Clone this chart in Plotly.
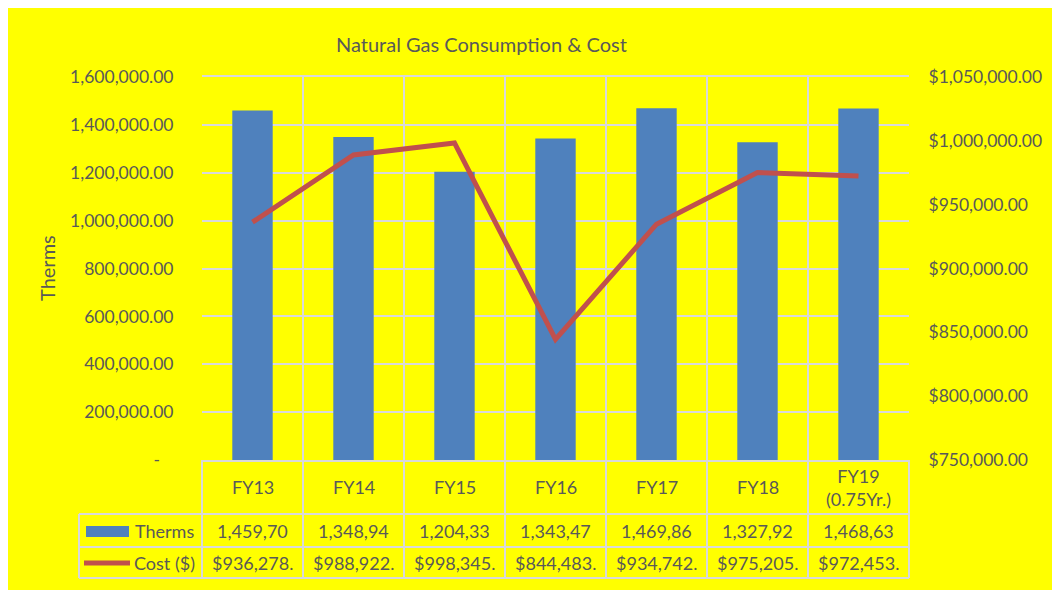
import plotly.graph_objects as go

# ---- data ----
categories = ["FY13", "FY14", "FY15", "FY16", "FY17", "FY18", "FY19<br>(0.75Yr.)"]
therms = [1459700, 1348940, 1204330, 1343470, 1469860, 1327920, 1468630]
cost = [936278, 988922, 998345, 844483, 934742, 975205, 972453]
left_ticks = [0, 200000, 400000, 600000, 800000, 1000000, 1200000, 1400000, 1600000]
right_ticks = [750000, 800000, 850000, 900000, 950000, 1000000, 1050000]

TXT = "#595959"
GRID = "#D9D9D9"
BLUE = "#4F81BD"
RED = "#C0504D"
FONT = "Lato"
FS = 17.5
FT = 18

OFF = 8  # page body margin
W, H = 1060 - OFF, 590 - OFF
L, R, T, B = 202, 909, 77, 460  # plot area in page pixels


def px(x):
    return (x - L) / (R - L)


def py(y):
    return (B - y) / (B - T)


fig = go.Figure()
fig.add_trace(go.Bar(x=categories, y=therms, name="Therms", marker_color=BLUE,
                     marker_line_width=0, yaxis="y"))
fig.add_trace(go.Scatter(x=categories, y=cost, name="Cost ($)", mode="lines",
                         line=dict(color=RED, width=5), yaxis="y2"))

left_text = ["-\u00a0\u00a0\u00a0" if v == 0 else f"{v:,.2f}" for v in left_ticks]
right_text = [f"${v:,.2f}" for v in right_ticks]

shapes = []
# outer frame
shapes.append(dict(type="rect", xref="paper", yref="paper", x0=px(6), x1=px(1058),
                   y0=py(600), y1=py(5), fillcolor="#FFFF00",
                   line=dict(color=GRID, width=2), layer="below"))
# table grid: vertical boundaries
n = len(categories)
for i in range(n + 1):
    xb = i / n
    shapes.append(dict(type="line", xref="paper", yref="paper", x0=xb, x1=xb,
                       y0=py(460), y1=py(578), line=dict(color=GRID, width=2)))
# legend column left edge
shapes.append(dict(type="line", xref="paper", yref="paper", x0=px(79), x1=px(79),
                   y0=py(514), y1=py(578), line=dict(color=GRID, width=2)))
# horizontal row lines
for yy in (514, 547, 578):
    shapes.append(dict(type="line", xref="paper", yref="paper", x0=px(79), x1=1,
                       y0=py(yy), y1=py(yy), line=dict(color=GRID, width=2)))
# legend glyphs
shapes.append(dict(type="rect", xref="paper", yref="paper", x0=px(86), x1=px(129),
                   y0=py(537), y1=py(526), fillcolor=BLUE, line=dict(width=0)))
shapes.append(dict(type="line", xref="paper", yref="paper", x0=px(84), x1=px(130),
                   y0=py(563), y1=py(563), line=dict(color=RED, width=5)))


def ann(text, x, y, xref="paper", size=FT, xanchor="center", angle=0):
    return dict(text=text, xref=xref, yref="paper", x=x, y=y, showarrow=False,
                xanchor=xanchor, yanchor="middle", textangle=angle,
                font=dict(size=size, color=TXT, family=FONT))


annotations = [
    ann("Natural Gas Consumption & Cost", px(481), py(44), size=20),
    ann("Therms", px(47), py(268), size=20, angle=-90),
    ann("Therms", px(133), py(530.5), xanchor="left"),
    ann("Cost ($)", px(132), py(562.5), xanchor="left"),
]
for c, t, k in zip(categories, therms, cost):
    annotations.append(ann(c, c, py(487), xref="x"))
    annotations.append(ann(f"{t:,.2f}"[:8], c, py(530.5), xref="x"))
    annotations.append(ann(f"${k:,.2f}"[:9], c, py(562.5), xref="x"))

fig.update_layout(
    width=W, height=H,
    margin=dict(l=L - OFF, r=W - (R - OFF), t=T - OFF, b=H - (B - OFF), autoexpand=False),
    paper_bgcolor="white", plot_bgcolor="rgba(0,0,0,0)",
    showlegend=False, bargap=0.6,
    font=dict(family=FONT, color=TXT, size=FS),
    xaxis=dict(type="category", tickson="boundaries", showgrid=True, gridcolor=GRID,
               gridwidth=2, showticklabels=False, ticks="", showline=True, mirror=True,
               linecolor=GRID, linewidth=2, zeroline=False),
    yaxis=dict(range=[0, 1600000], tickvals=left_ticks, ticktext=left_text,
               showgrid=True, gridcolor=GRID, gridwidth=2, zeroline=False,
               ticks="outside", ticklen=24, tickcolor="rgba(0,0,0,0)",
               showline=False, tickfont=dict(size=FS, color=TXT, family=FONT)),
    yaxis2=dict(range=[750000, 1050000], tickvals=right_ticks, ticktext=right_text,
                overlaying="y", side="right", showgrid=False, zeroline=False,
                ticks="outside", ticklen=15, tickcolor="rgba(0,0,0,0)",
                showline=False, tickfont=dict(size=FS, color=TXT, family=FONT)),
    shapes=shapes, annotations=annotations,
)

fig.write_html("out.html")
